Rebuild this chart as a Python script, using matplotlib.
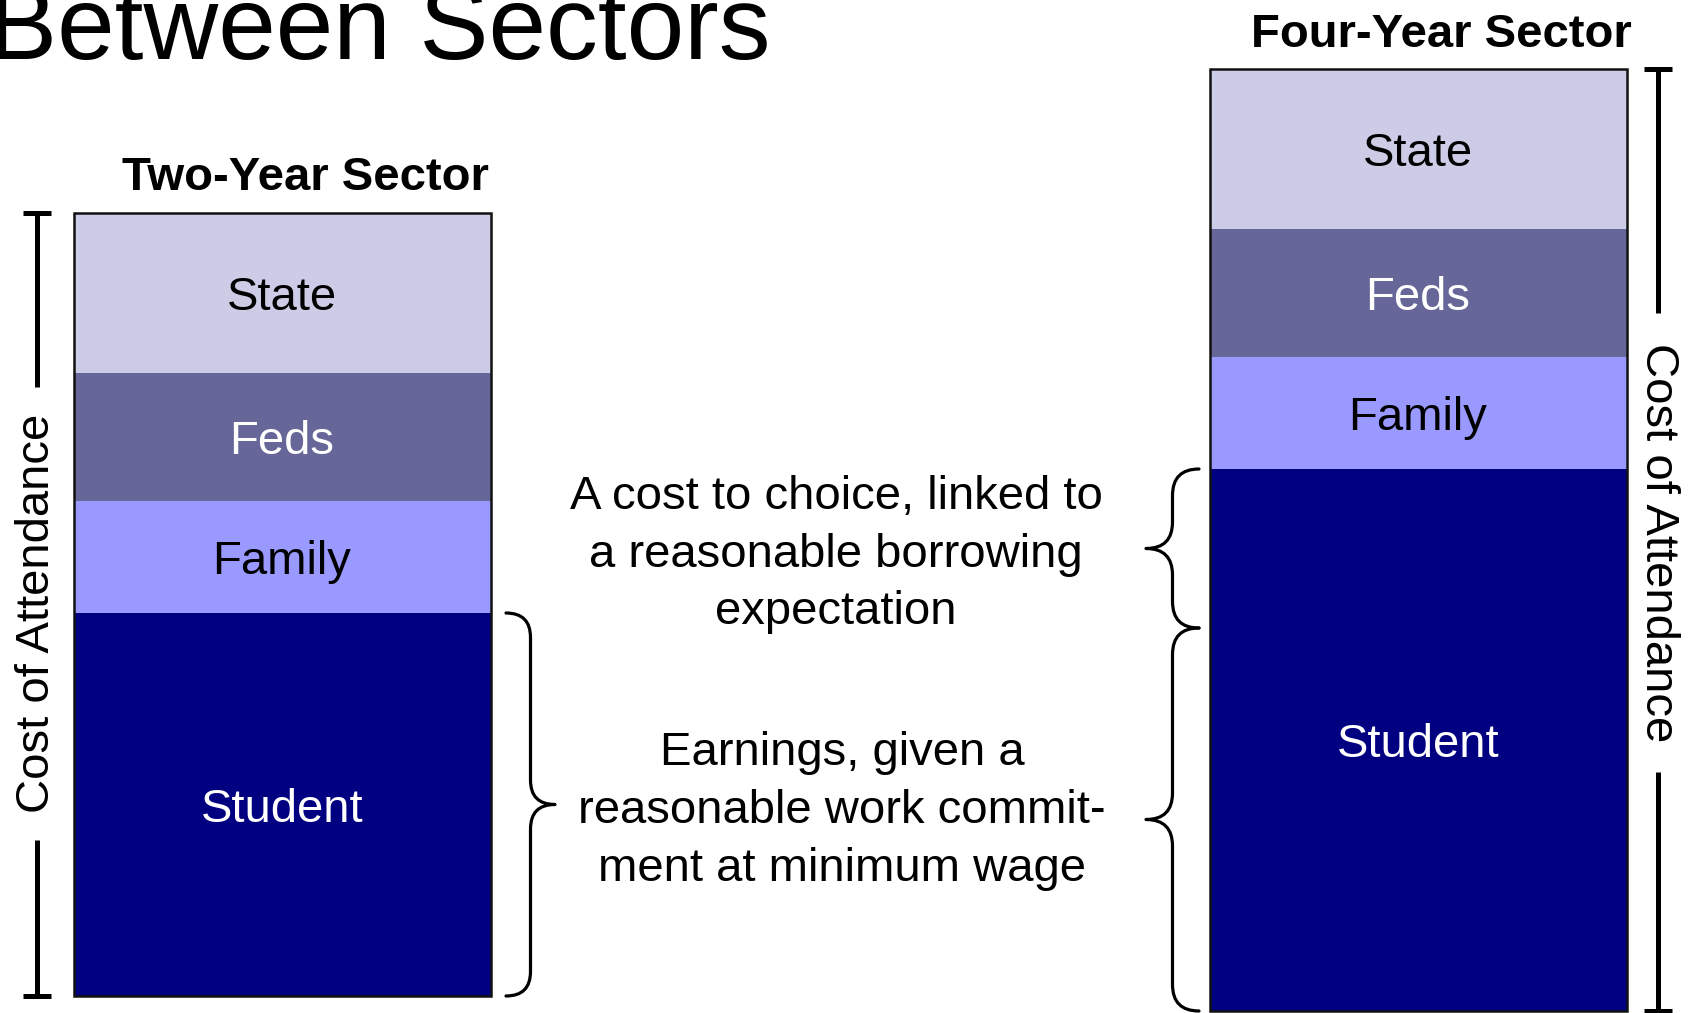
import numpy as np
import matplotlib
matplotlib.use("Agg")
import matplotlib.pyplot as plt
from matplotlib.path import Path
from matplotlib.patches import PathPatch

plt.rcParams['font.family'] = ['Liberation Sans', 'DejaVu Sans']

# data (arbitrary units, stacked bottom -> top)
segments = ["Student", "Family", "Feds", "State"]
two_year = [383, 112, 128, 160]
four_year = [542, 112, 128, 160]
seg_colors = ["#000080", "#9999FF", "#666699", "#CCCCE6"]
text_colors = ["white", "black", "white", "black"]
sector_names = ["Two-Year Sector", "Four-Year Sector"]

W, H = 1694, 1013
fig = plt.figure(figsize=(W / 100, H / 100), dpi=100)
ax = fig.add_axes([0, 0, 1, 1])
ax.set_xlim(0, W)
ax.set_ylim(0, H)
ax.axis('off')

bar_x = [282, 1418]
bar_w = 417
bar_base = [17, 2]


def brace(x_end, x_tip, y0, y1):
    xm = (x_end + x_tip) / 2
    ym = (y0 + y1) / 2
    r = abs(x_tip - x_end) / 2
    verts = [(x_end, y0), (xm, y0), (xm, y0 + r),
             (xm, ym - r), (xm, ym), (x_tip, ym),
             (xm, ym), (xm, ym + r),
             (xm, y1 - r), (xm, y1), (x_end, y1)]
    codes = [Path.MOVETO, Path.CURVE3, Path.CURVE3,
             Path.LINETO, Path.CURVE3, Path.CURVE3,
             Path.CURVE3, Path.CURVE3,
             Path.LINETO, Path.CURVE3, Path.CURVE3]
    ax.add_patch(PathPatch(Path(verts, codes), fill=False, lw=2.3,
                           edgecolor='black', capstyle='round', joinstyle='round'))


def cost_bracket(x, y0, y1, gap0, gap1, rot):
    ax.plot([x, x], [y1, gap1], color='black', lw=3.6, solid_capstyle='butt')
    ax.plot([x, x], [gap0, y0], color='black', lw=3.6, solid_capstyle='butt')
    ax.plot([x - 14, x + 14], [y1, y1], color='black', lw=3.6, solid_capstyle='butt')
    ax.plot([x - 14, x + 14], [y0, y0], color='black', lw=3.6, solid_capstyle='butt')
    ax.text(x, (gap0 + gap1) / 2, "Cost of Attendance", rotation=rot,
            ha='center', va='center', fontsize=34, rotation_mode='anchor')


for i, vals in enumerate([two_year, four_year]):
    bottoms = bar_base[i] + np.concatenate([[0], np.cumsum(vals)[:-1]])
    ax.bar([bar_x[i]] * len(vals), vals, bottom=bottoms, width=bar_w,
           color=seg_colors, edgecolor='none')
    ax.bar(bar_x[i], sum(vals), bottom=bar_base[i], width=bar_w,
           fill=False, edgecolor='#111111', lw=1.8)
    for name, v, b, tc in zip(segments, vals, bottoms, text_colors):
        ax.text(bar_x[i], b + v / 2, name, ha='center', va='center_baseline',
                fontsize=34, color=tc)

# sector headers
top2 = bar_base[0] + sum(two_year)
top4 = bar_base[1] + sum(four_year)
ax.text(305, top2 + 23, sector_names[0], ha='center', va='baseline',
        fontsize=34, fontweight='bold')
ax.text(1441, top4 + 22, sector_names[1], ha='center', va='baseline',
        fontsize=34, fontweight='bold')

# title (cut at the top, as in the slide)
ax.text(-12, H - 59, "Between Sectors", ha='left', va='baseline', fontsize=74.5)

# cost of attendance brackets
cost_bracket(37, bar_base[0], top2, 1013 - 840, 1013 - 387, 90)
cost_bracket(1658, bar_base[1], top4, 1013 - 772, 1013 - 313, -90)

# braces
stud2 = two_year[0]
stud4 = four_year[0]
brace(506, 555, bar_base[0], bar_base[0] + stud2)
brace(1199, 1146, bar_base[1], bar_base[1] + stud2)
brace(1199, 1146, bar_base[1] + stud2, bar_base[1] + stud4)

# annotations
block1 = ["A cost to choice, linked to", "a reasonable borrowing", "expectation"]
block2 = ["Earnings, given a", "reasonable work commit-", "ment at minimum wage"]
for k, line in enumerate(block1):
    ax.text(836, H - 509 - 57.5 * k, line, ha='center', va='baseline', fontsize=34)
for k, line in enumerate(block2):
    ax.text(842, H - 765 - 58 * k, line, ha='center', va='baseline', fontsize=34)

fig.savefig("out.png", dpi=100)
